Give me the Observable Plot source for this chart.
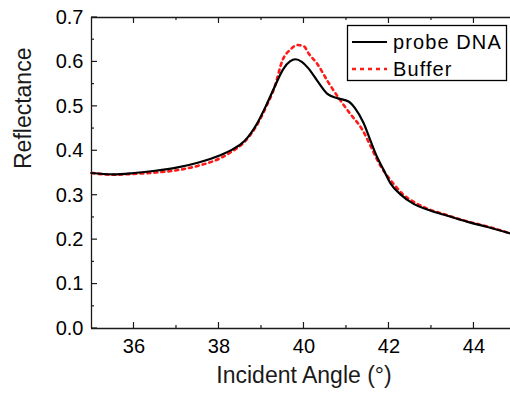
<!DOCTYPE html>
<html><head><meta charset="utf-8">
<script src="https://cdn.jsdelivr.net/npm/d3@7"></script>
<script src="https://cdn.jsdelivr.net/npm/@observablehq/plot@0.6"></script>
<style>body{margin:0;background:#fff}</style>
</head><body><div id="chart"></div>
<script>
const seriesNames = ["probe DNA", "Buffer"];
const angleDNA = [35.0,35.5,36.0,36.5,37.0,37.5,38.0,38.3,38.6,38.9,39.1,39.3,39.52,39.67,39.8,39.95,40.1,40.31,40.55,40.8,41.05,41.2,41.4,41.56,41.72,41.88,42.04,42.27,42.59,42.9,43.3,43.85,44.3,44.86];
const reflDNA  = [0.350,0.347,0.350,0.355,0.362,0.373,0.389,0.402,0.422,0.462,0.500,0.542,0.585,0.601,0.606,0.600,0.586,0.558,0.528,0.518,0.511,0.496,0.463,0.424,0.386,0.356,0.326,0.302,0.280,0.268,0.256,0.240,0.229,0.214];
const angleBuf = [35.0,35.5,36.0,36.5,37.0,37.5,38.0,38.3,38.6,38.9,39.1,39.3,39.5,39.68,39.85,40.0,40.11,40.31,40.58,40.86,41.09,41.37,41.56,41.67,41.82,41.98,42.14,42.33,42.6,42.9,43.3,43.85,44.3,44.86];
const reflBuf  = [0.350,0.346,0.348,0.351,0.356,0.366,0.382,0.398,0.420,0.459,0.497,0.541,0.605,0.628,0.638,0.635,0.619,0.596,0.553,0.513,0.483,0.448,0.412,0.390,0.363,0.341,0.322,0.302,0.284,0.270,0.257,0.241,0.230,0.214];
const xMajor = [36, 38, 40, 42, 44];
const xMinor = [37, 39, 41, 43];
const yMajor = [0.0, 0.1, 0.2, 0.3, 0.4, 0.5, 0.6, 0.7];
const yMinor = [0.05, 0.15, 0.25, 0.35, 0.45, 0.55, 0.65];
const xDomain = [35, 44.86];
const yDomain = [0, 0.7];
const xTitle = "Incident Angle (°)";
const yTitle = "Reflectance";

const dna = angleDNA.map((a, i) => ({angle: a, refl: reflDNA[i]}));
const buf = angleBuf.map((a, i) => ({angle: a, refl: reflBuf[i]}));

const axisColor = "#1a1a1a";
const chart = Plot.plot({
  width: 510, height: 397,
  marginLeft: 91, marginRight: 0, marginTop: 17, marginBottom: 69,
  style: {fontFamily: "'Liberation Sans', Arial, sans-serif", fontSize: "20px", color: "#000", background: "#fff", overflow: "visible"},
  x: {domain: xDomain, label: null},
  y: {domain: yDomain, label: null},
  marks: [
    Plot.ruleY([yDomain[0]], {stroke: axisColor, strokeWidth: 1.3}),
    Plot.ruleY([yDomain[1]], {stroke: axisColor, strokeWidth: 1.3}),
    Plot.ruleX([xDomain[0]], {stroke: axisColor, strokeWidth: 1.3}),
    Plot.axisX(xMajor, {anchor: "bottom", tickSize: 0, tickPadding: 10, tickFormat: d => String(d), label: null, fontSize: 20}),
    Plot.axisY(yMajor, {anchor: "left", tickSize: 0, tickPadding: 8, tickFormat: d => d.toFixed(1), label: null, fontSize: 20}),
    Plot.line(buf, {x: "angle", y: "refl", stroke: "#ff1a1a", strokeWidth: 2.6, strokeDasharray: "3,4", curve: "monotone-x"}),
    Plot.line(dna, {x: "angle", y: "refl", stroke: "#000", strokeWidth: 2.2, curve: "monotone-x"}),
    Plot.text([xTitle], {frameAnchor: "bottom", dx: 3, dy: 54, fontSize: 23, fill: "#1a1a1a"}),
    Plot.text([yTitle], {frameAnchor: "left", rotate: -90, dx: -68, dy: -4, fontSize: 23, fill: "#1a1a1a"})
  ]
});
document.getElementById("chart").appendChild(chart);

const svg = d3.select(chart);
const xs = chart.scale("x"), ys = chart.scale("y");
const yB = ys.apply(yDomain[0]), yT = ys.apply(yDomain[1]), xL = xs.apply(xDomain[0]);
// inward ticks
const tg = svg.append("g").attr("stroke", axisColor).attr("stroke-width", 1.2);
[[xMajor, 6], [xMinor, 3]].forEach(([vals, len]) => vals.forEach(v => {
  const px = xs.apply(v);
  tg.append("line").attr("x1", px).attr("x2", px).attr("y1", yB).attr("y2", yB - len);
  tg.append("line").attr("x1", px).attr("x2", px).attr("y1", yT).attr("y2", yT + len);
}));
[[yMajor, 6], [yMinor, 3]].forEach(([vals, len]) => vals.forEach(v => {
  const py = ys.apply(v);
  tg.append("line").attr("x1", xL).attr("x2", xL + len).attr("y1", py).attr("y2", py);
}));

// legend inside plot area
const lg = svg.append("g").attr("font-family", "'Liberation Sans', Arial, sans-serif").attr("font-size", 20).attr("text-anchor", "start");
lg.append("rect").attr("x", 347.5).attr("y", 25.5).attr("width", 159).attr("height", 55)
  .attr("fill", "#fff").attr("stroke", "#000").attr("stroke-width", 1.3);
const styles = [{stroke: "#000", width: 2.2, dash: null}, {stroke: "#ff1a1a", width: 2.6, dash: "4,4"}];
seriesNames.forEach((name, i) => {
  const cy = 42 + i * 27;
  lg.append("line").attr("x1", 352).attr("x2", 387).attr("y1", cy).attr("y2", cy)
    .attr("stroke", styles[i].stroke).attr("stroke-width", styles[i].width)
    .attr("stroke-dasharray", styles[i].dash);
  lg.append("text").attr("x", 393).attr("y", cy + 6.5).attr("fill", "#000")
    .attr("text-anchor", "start").attr("letter-spacing", "1.1px").text(name);
});
</script>
</body></html>
